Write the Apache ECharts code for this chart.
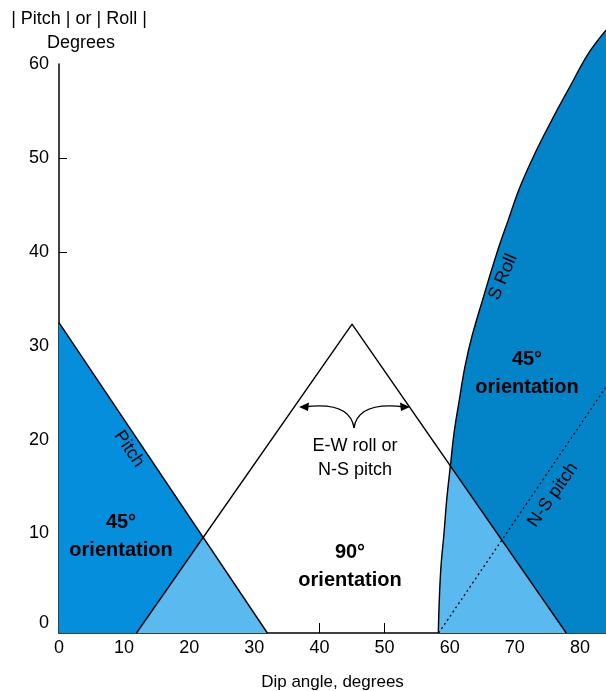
<!DOCTYPE html>
<html>
<head>
<meta charset="utf-8">
<script src="https://cdn.jsdelivr.net/npm/echarts@6/dist/echarts.min.js"></script>
<style>
    html, body { margin: 0; padding: 0; background: #fff; }
    #chart { width: 606px; height: 691px; }
</style>
</head>
<body>
<div id="chart"></div>
<script>
    // axis floor sits a little below the 0 label
    var yFloor = -0.6;
    var xTicks = [0, 10, 20, 30, 40, 50, 60, 70, 80];
    var yTicks = [0, 10, 20, 30, 40, 50, 60];

    // curves [dip, degrees]
    var pitchLine = [[0, 32.45], [32, -0.6]];
    var triangleLine = [[11.9, -0.6], [45, 32.3], [77.9, -0.6]];
    var sRoll = [[58.25, -0.6], [58.4, 2.9], [58.66, 6.5], [59.12, 10.0], [59.54, 13.6], [60.15, 17.5],
        [60.66, 20.7], [61.47, 24.2], [62.35, 27.8], [63.42, 31.0], [65.06, 34.9], [67.21, 39.8],
        [69.0, 43.4], [70.79, 46.9], [73.1, 50.5], [75.66, 54.0], [78.47, 57.6], [81.28, 61.1], [84.0, 63.6]];
    var nsPitch = [[58.3, -0.6], [83.9, 25.5]];
    // overlap regions (light blue)
    var leftOverlap = [[11.9, -0.6], [22.2, 9.6], [32, -0.6]];
    var rightOverlap = [[58.25, -0.6], [58.4, 2.9], [58.66, 6.5], [59.12, 10.0], [59.54, 13.6],
        [60.1, 17.2], [77.9, -0.6]];

    var darkLeft = '#058edc';
    var darkRight = '#0383c8';
    var light = '#5ab9ee';
    var font = '"Liberation Sans", Arial, Helvetica, sans-serif';

    var myChart = echarts.init(document.getElementById('chart'));

    function fill(data, color, smooth) {
        return {
            type: 'line',
            data: data,
            smooth: smooth || false,
            symbol: 'none',
            silent: true,
            clip: false,
            z: 1,
            lineStyle: {width: 0, opacity: 0},
            areaStyle: {color: color, opacity: 1, origin: 'start'}
        }
    }

    function stroke(data, type, smooth) {
        return {
            type: 'line',
            data: data,
            smooth: smooth || false,
            symbol: 'none',
            silent: true,
            clip: false,
            z: 3,
            lineStyle: {color: '#000', width: type === 'solid' ? 1.4 : 1.3, type: type}
        }
    }

    function label(text, x, y, deg, size, bold) {
        return {
            type: 'text',
            x: x,
            y: y,
            rotation: deg * Math.PI / 180,
            silent: true,
            z: 10,
            style: {
                text: text,
                x: 0,
                y: 0,
                fill: '#000',
                font: (bold ? 'bold ' : '') + size + 'px ' + font,
                lineHeight: bold ? 28 : 24,
                align: 'center',
                verticalAlign: 'middle',
                textAlign: 'center',
                textVerticalAlign: 'middle'
            }
        }
    }

    var option = {
        animation: false,
        backgroundColor: '#fff',
        grid: {
            left: 59,
            right: 0,
            top: 64,
            bottom: 58,
            containLabel: false,
            outerBoundsMode: 'none'
        },
        xAxis: {
            type: 'value',
            min: 0,
            max: 84,
            name: 'Dip angle, degrees',
            nameLocation: 'middle',
            nameGap: 41,
            nameTextStyle: {color: '#000', fontSize: 17, fontFamily: font},
            axisLine: {show: true, onZero: false, lineStyle: {color: '#000', width: 1.5}},
            axisTick: {
                show: true,
                inside: true,
                length: 10,
                customValues: xTicks.slice(1),
                lineStyle: {color: '#000', width: 1}
            },
            axisLabel: {
                show: true,
                customValues: xTicks,
                margin: 6,
                color: '#000',
                fontSize: 18,
                fontFamily: font
            },
            splitLine: {show: false}
        },
        yAxis: {
            type: 'value',
            min: yFloor,
            max: 60,
            axisLine: {show: true, onZero: false, lineStyle: {color: '#000', width: 1.5}},
            axisTick: {
                show: true,
                inside: true,
                length: 8,
                customValues: yTicks.slice(1, 6),
                lineStyle: {color: '#000', width: 1}
            },
            axisLabel: {
                show: true,
                customValues: yTicks,
                margin: 10,
                color: '#000',
                fontSize: 18,
                fontFamily: font,
                formatter: function (v) {
                    return v === 0 ? '{lift|0}' : String(v);
                },
                rich: {
                    lift: {color: '#000', fontSize: 18, fontFamily: font, padding: [0, 0, 9, 0]}
                }
            },
            splitLine: {show: false}
        },
        series: [
            fill(pitchLine, darkLeft),
            fill(leftOverlap, light),
            fill(sRoll, darkRight, 0.4),
            fill(rightOverlap, light),
            stroke(pitchLine, 'solid'),
            stroke(triangleLine, 'solid'),
            stroke(sRoll, 'solid', 0.4),
            stroke(nsPitch, [2, 3])
        ],
        graphic: [
            label('| Pitch | or | Roll |', 79, 19, 0, 18, false),
            label('Degrees', 81, 43, 0, 18, false),
            label('Pitch', 129, 449, -56, 18, false),
            label('45°\norientation', 121, 536, 0, 20, true),
            label('90°\norientation', 350, 566, 0, 20, true),
            label('45°\norientation', 527, 373, 0, 20, true),
            label('S Roll', 503, 277, 67, 18, false),
            label('N-S pitch', 553, 495, 55, 18, false),
            label('E-W roll or\nN-S pitch', 355, 458, 0, 18, false),
            // curly arrows in the triangle
            {
                type: 'bezierCurve', silent: true, z: 10,
                shape: {x1: 354, y1: 428, cpx1: 350, cpy1: 401, x2: 304, y2: 407},
                style: {stroke: '#000', lineWidth: 1.3, fill: null}
            },
            {
                type: 'bezierCurve', silent: true, z: 10,
                shape: {x1: 354, y1: 428, cpx1: 358, cpy1: 401, x2: 405, y2: 407},
                style: {stroke: '#000', lineWidth: 1.3, fill: null}
            },
            {
                type: 'polygon', silent: true, z: 10,
                shape: {points: [[299, 407], [309, 402.5], [308, 411]]},
                style: {fill: '#000'}
            },
            {
                type: 'polygon', silent: true, z: 10,
                shape: {points: [[410, 407], [400, 402.5], [401, 411]]},
                style: {fill: '#000'}
            }
        ]
    };

    option && myChart.setOption(option);
</script>
</body>
</html>
